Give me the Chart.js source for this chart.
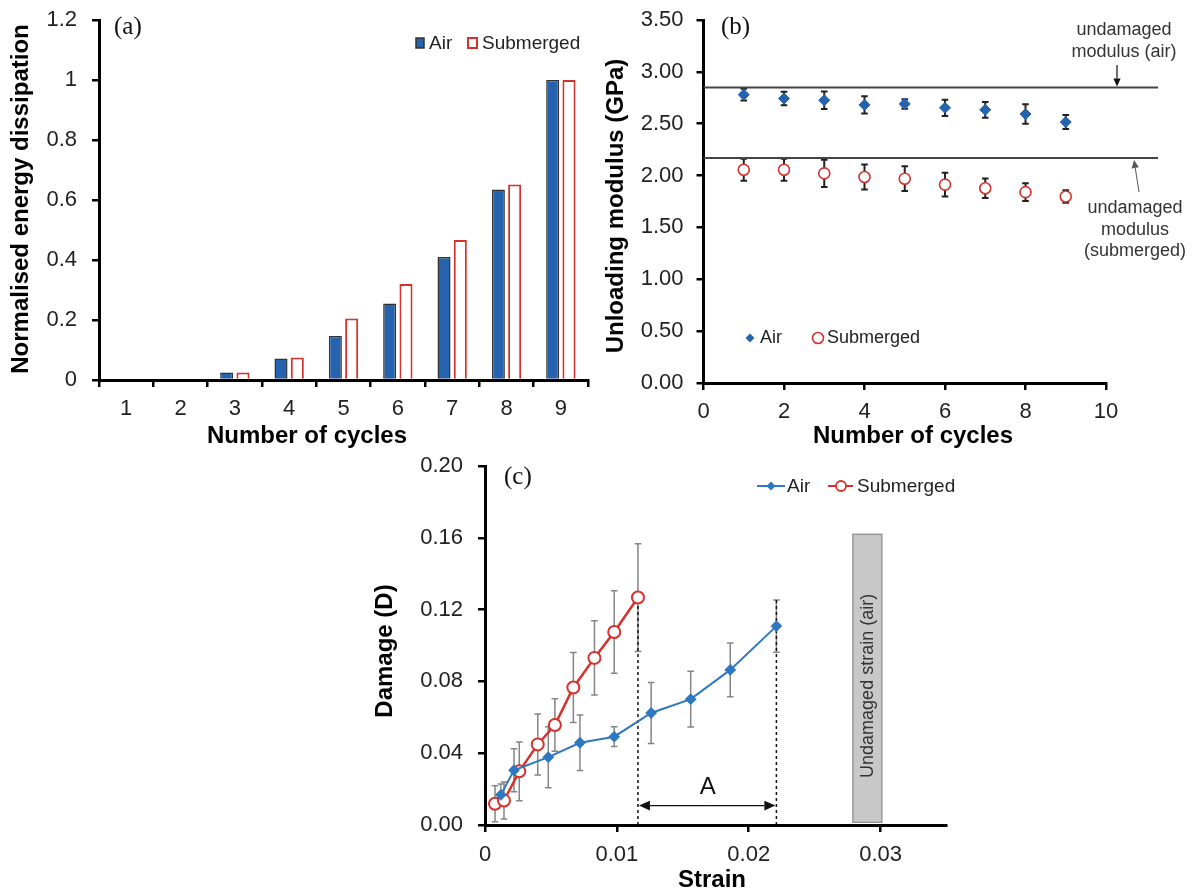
<!DOCTYPE html>
<html><head><meta charset="utf-8">
<script src="https://cdn.jsdelivr.net/npm/chart.js@4.4.1/dist/chart.umd.min.js"></script>
<style>
body{margin:0;background:#fff;width:1200px;height:895px;overflow:hidden;position:relative}
.p{position:absolute}
</style></head><body>
<div class="p" style="left:0;top:0;width:600px;height:450px"><canvas id="ca" width="600" height="450"></canvas></div>
<div class="p" style="left:600px;top:0;width:600px;height:450px"><canvas id="cb" width="600" height="450"></canvas></div>
<div class="p" style="left:360px;top:450px;width:600px;height:445px"><canvas id="cc" width="600" height="445"></canvas></div>
<script>
// ---------- data ----------
const cycles = ['1','2','3','4','5','6','7','8','9'];
const energyAir = [0,0,0.025,0.072,0.147,0.255,0.41,0.635,1.0];
const energySub = [0,0,0.025,0.075,0.205,0.32,0.467,0.652,1.0];

const cycleNums = [1,2,3,4,5,6,7,8,9];
const modulusAir = [2.78,2.742,2.726,2.682,2.691,2.653,2.634,2.593,2.516];
const modulusAirErr = [0.056,0.065,0.084,0.083,0.046,0.079,0.076,0.094,0.068];
const modulusSub = [2.056,2.056,2.021,1.986,1.970,1.913,1.878,1.840,1.798];
const modulusSubErr = [0.105,0.105,0.132,0.121,0.119,0.114,0.094,0.086,0.06];
const undamagedModulus = [2.85, 2.17]; // air, submerged

const strainAir = [0.0012,0.0022,0.0048,0.0072,0.0098,0.0126,0.0156,0.0186,0.0221];
const damageAir = [0.0168,0.0305,0.0378,0.0458,0.0492,0.0624,0.0701,0.0864,0.1108];
const damageAirErr = [0.006,0.012,0.017,0.0155,0.0055,0.017,0.0155,0.015,0.0145];
const strainSub = [0.00076,0.00144,0.0026,0.0040,0.0053,0.0067,0.0083,0.0098,0.0116];
const damageSub = [0.0118,0.0136,0.0299,0.0449,0.0557,0.0766,0.0931,0.1075,0.1267];
const damageSubErr = [0.010,0.0103,0.0164,0.017,0.0146,0.0195,0.0207,0.023,0.030];
const undamagedStrainBand = [0.0279, 0.0301];
const undamagedStrainBandY = [0.0015, 0.162];
const arrowADamage = 0.0108;

const ticksA = [0,0.2,0.4,0.6,0.8,1,1.2];
const ticksCx = [0,0.01,0.02,0.03];

// ---------- style ----------
const SANS = "'Liberation Sans', Arial, sans-serif";
const SERIF = "'Liberation Serif', 'Times New Roman', serif";
const BLUE = '#2563ae', BLUE2 = '#2f78c2', RED = '#d8302c';
Chart.defaults.font.family = SANS;
Chart.defaults.color = '#222';
const TICKFONT = {size: 22, family: SANS};
const TITLEFONT = 'bold 24px ' + SANS;

function grid() {
  return {display: true, drawOnChartArea: false, drawTicks: true, tickLength: 7, color: '#000', lineWidth: 2.5};
}
const border = {display: true, color: '#000', width: 3};
function fixSize(prop, val) {
  return function (s) {
    s[prop] = val;
    s.paddingTop = 0; s.paddingBottom = 0; s.paddingLeft = 0; s.paddingRight = 0;
  };
}

const errorBarPlugin = {
  id: 'errbars',
  beforeDatasetsDraw(chart) {
    const ctx = chart.ctx, ys = chart.scales.y;
    chart.data.datasets.forEach((ds, i) => {
      if (!ds.errors) return;
      const meta = chart.getDatasetMeta(i);
      ctx.save();
      ctx.strokeStyle = ds.errorColor; ctx.lineWidth = ds.errorWidth;
      meta.data.forEach((pt, j) => {
        const v = ds.data[j].y, e = ds.errors[j];
        const yt = ys.getPixelForValue(v + e), yb = ys.getPixelForValue(v - e);
        const x = pt.x, c = ds.errorCap;
        ctx.beginPath();
        ctx.moveTo(x, yt); ctx.lineTo(x, yb);
        ctx.moveTo(x - c, yt); ctx.lineTo(x + c, yt);
        ctx.moveTo(x - c, yb); ctx.lineTo(x + c, yb);
        ctx.stroke();
      });
      ctx.restore();
    });
  }
};

function text(ctx, s, x, y, font, color, align, rot) {
  ctx.save(); ctx.font = font; ctx.fillStyle = color || '#222';
  ctx.textAlign = align || 'left'; ctx.textBaseline = 'middle';
  ctx.translate(x, y); if (rot) ctx.rotate(rot);
  ctx.fillText(s, 0, 0); ctx.restore();
}
function arrow(ctx, x1, y1, x2, y2, color, lw, head) {
  ctx.save(); ctx.strokeStyle = color; ctx.fillStyle = color; ctx.lineWidth = lw;
  const a = Math.atan2(y2 - y1, x2 - x1);
  ctx.beginPath(); ctx.moveTo(x1, y1); ctx.lineTo(x2 - Math.cos(a) * head, y2 - Math.sin(a) * head); ctx.stroke();
  ctx.beginPath(); ctx.moveTo(x2, y2);
  ctx.lineTo(x2 - head * Math.cos(a) + head * 0.45 * Math.sin(a), y2 - head * Math.sin(a) - head * 0.45 * Math.cos(a));
  ctx.lineTo(x2 - head * Math.cos(a) - head * 0.45 * Math.sin(a), y2 - head * Math.sin(a) + head * 0.45 * Math.cos(a));
  ctx.closePath(); ctx.fill();
  ctx.restore();
}
function diamond(ctx, x, y, r, color) {
  ctx.save(); ctx.fillStyle = color; ctx.beginPath();
  ctx.moveTo(x, y - r); ctx.lineTo(x + r, y); ctx.lineTo(x, y + r); ctx.lineTo(x - r, y); ctx.closePath(); ctx.fill(); ctx.restore();
}
function circle(ctx, x, y, r, color, lw) {
  ctx.save(); ctx.strokeStyle = color; ctx.fillStyle = '#fff'; ctx.lineWidth = lw;
  ctx.beginPath(); ctx.arc(x, y, r, 0, Math.PI * 2); ctx.fill(); ctx.stroke(); ctx.restore();
}

// ---------- (a) ----------
new Chart(document.getElementById('ca'), {
  type: 'bar',
  data: {labels: cycles, datasets: [
    {label: 'Air', data: energyAir, backgroundColor: BLUE, borderColor: '#333', borderWidth: 1.5, categoryPercentage: 0.6, barPercentage: 0.8},
    {label: 'Submerged', data: energySub, backgroundColor: '#fff', borderColor: RED, borderWidth: 2, categoryPercentage: 0.6, barPercentage: 0.8}
  ]},
  options: {
    responsive: false, animation: false,
    layout: {padding: {left: 0, right: 12, top: 20, bottom: 0}},
    plugins: {legend: {display: false}, tooltip: {enabled: false}},
    scales: {
      x: {
        border, grid: Object.assign(grid(), {offset: true}),
        ticks: {font: TICKFONT, padding: 9, color: '#222'},
        afterFit: fixSize('height', 70)
      },
      y: {
        border, grid: grid(),
        min: 0, max: 1.2,
        afterBuildTicks(s) { s.ticks = ticksA.map(v => ({value: v})); },
        ticks: {font: TICKFONT, padding: 15, color: '#222', callback: v => String(+v.toFixed(1))},
        afterFit: fixSize('width', 99)
      }
    }
  },
  plugins: [{
    id: 'decorA',
    afterDraw(chart) {
      const ctx = chart.ctx;
      text(ctx, 'Number of cycles', 307, 436, TITLEFONT, '#000', 'center');
      text(ctx, 'Normalised energy dissipation', 21, 199, TITLEFONT, '#000', 'center', -Math.PI / 2);
      text(ctx, '(a)', 114, 27, '25px ' + SERIF, '#111');
      ctx.save();
      ctx.fillStyle = BLUE; ctx.strokeStyle = '#333'; ctx.lineWidth = 1.5;
      ctx.fillRect(416, 38, 8, 10); ctx.strokeRect(416, 38, 8, 10);
      ctx.fillStyle = '#fff'; ctx.strokeStyle = RED; ctx.lineWidth = 2;
      ctx.fillRect(468, 38, 9, 10); ctx.strokeRect(468, 38, 9, 10);
      ctx.restore();
      text(ctx, 'Air', 429, 44, '19px ' + SANS, '#222');
      text(ctx, 'Submerged', 482, 44, '19px ' + SANS, '#222');
    }
  }]
});

// ---------- (b) ----------
new Chart(document.getElementById('cb'), {
  type: 'scatter',
  data: {datasets: [
    {label: 'Air', data: cycleNums.map((c, i) => ({x: c, y: modulusAir[i]})), errors: modulusAirErr,
     errorColor: '#222', errorWidth: 2, errorCap: 3.3,
     pointStyle: 'rectRot', pointRadius: 5.5, backgroundColor: BLUE, borderColor: BLUE, borderWidth: 1},
    {label: 'Submerged', data: cycleNums.map((c, i) => ({x: c, y: modulusSub[i]})), errors: modulusSubErr,
     errorColor: '#222', errorWidth: 2, errorCap: 3.3,
     pointStyle: 'circle', pointRadius: 5.5, backgroundColor: '#fff', borderColor: RED, borderWidth: 1.6}
  ]},
  options: {
    responsive: false, animation: false,
    layout: {padding: {left: 0, right: 94, top: 20, bottom: 0}},
    plugins: {legend: {display: false}, tooltip: {enabled: false}},
    scales: {
      x: {
        border, grid: grid(),
        type: 'linear', min: 0, max: 10,
        ticks: {stepSize: 2, font: TICKFONT, padding: 9, color: '#222'},
        afterFit: fixSize('height', 67)
      },
      y: {
        border, grid: grid(),
        min: 0, max: 3.5,
        ticks: {stepSize: 0.5, font: TICKFONT, padding: 13, color: '#222', callback: v => v.toFixed(2)},
        afterFit: fixSize('width', 103.5)
      }
    }
  },
  plugins: [errorBarPlugin, {
    id: 'decorB',
    beforeDatasetsDraw(chart) {
      const ctx = chart.ctx, ys = chart.scales.y, L = chart.chartArea.left;
      ctx.save(); ctx.strokeStyle = '#444'; ctx.lineWidth = 2;
      undamagedModulus.forEach(v => {
        const y = ys.getPixelForValue(v);
        ctx.beginPath(); ctx.moveTo(L, y); ctx.lineTo(558, y); ctx.stroke();
      });
      ctx.restore();
    },
    afterDraw(chart) {
      const ctx = chart.ctx, ys = chart.scales.y;
      text(ctx, 'Number of cycles', 313, 436, TITLEFONT, '#000', 'center');
      text(ctx, 'Unloading modulus (GPa)', 16, 206, TITLEFONT, '#000', 'center', -Math.PI / 2);
      text(ctx, '(b)', 121, 27, '25px ' + SERIF, '#111');
      const f = '18px ' + SANS;
      text(ctx, 'undamaged', 524, 30, f, '#333', 'center');
      text(ctx, 'modulus (air)', 524, 52, f, '#333', 'center');
      const yA = ys.getPixelForValue(undamagedModulus[0]);
      arrow(ctx, 517, 65, 517, yA - 1, '#111', 1.2, 8);
      text(ctx, 'undamaged', 535, 208, f, '#333', 'center');
      text(ctx, 'modulus', 535, 230, f, '#333', 'center');
      text(ctx, '(submerged)', 535, 251, f, '#333', 'center');
      const yS = ys.getPixelForValue(undamagedModulus[1]);
      arrow(ctx, 539, 192, 534, yS + 2, '#555', 1, 8);
      // legend
      diamond(ctx, 150, 338, 4.5, BLUE);
      text(ctx, 'Air', 160, 338, '18px ' + SANS, '#222');
      circle(ctx, 218, 338, 5.5, RED, 1.6);
      text(ctx, 'Submerged', 227, 338, '18px ' + SANS, '#222');
    }
  }]
});

// ---------- (c) ----------
new Chart(document.getElementById('cc'), {
  type: 'scatter',
  data: {datasets: [
    {label: 'Air', data: strainAir.map((s, i) => ({x: s, y: damageAir[i]})), errors: damageAirErr,
     errorColor: '#858585', errorWidth: 1.5, errorCap: 3.3,
     showLine: true, borderColor: BLUE2, borderWidth: 2, pointStyle: 'rectRot', pointRadius: 4.5,
     backgroundColor: BLUE2, pointBorderColor: BLUE2},
    {label: 'Submerged', data: strainSub.map((s, i) => ({x: s, y: damageSub[i]})), errors: damageSubErr,
     errorColor: '#858585', errorWidth: 1.5, errorCap: 3.3,
     showLine: true, borderColor: RED, borderWidth: 2.5, pointStyle: 'circle', pointRadius: 6,
     backgroundColor: '#fff', pointBorderColor: RED, pointBorderWidth: 2}
  ]},
  options: {
    responsive: false, animation: false,
    layout: {padding: {left: 0, right: 13.5, top: 16, bottom: 0}},
    plugins: {legend: {display: false}, tooltip: {enabled: false}},
    scales: {
      x: {
        border, grid: grid(),
        type: 'linear', min: 0, max: 0.035,
        afterBuildTicks(s) { s.ticks = ticksCx.map(v => ({value: v})); },
        ticks: {font: TICKFONT, padding: 10, color: '#222', callback: v => v === 0 ? '0' : v.toFixed(2)},
        afterFit: fixSize('height', 70)
      },
      y: {
        border, grid: grid(),
        min: 0, max: 0.2,
        ticks: {stepSize: 0.04, font: TICKFONT, padding: 15, color: '#222', callback: v => v.toFixed(2)},
        afterFit: fixSize('width', 125)
      }
    }
  },
  plugins: [errorBarPlugin, {
    id: 'decorC',
    beforeDatasetsDraw(chart) {
      const ctx = chart.ctx, xs = chart.scales.x, ys = chart.scales.y;
      // grey band
      const x1 = xs.getPixelForValue(undamagedStrainBand[0]), x2 = xs.getPixelForValue(undamagedStrainBand[1]);
      const y1 = ys.getPixelForValue(undamagedStrainBandY[1]), y2 = ys.getPixelForValue(undamagedStrainBandY[0]);
      ctx.save();
      ctx.fillStyle = '#c8c8c8'; ctx.strokeStyle = '#8a8a8a'; ctx.lineWidth = 1.2;
      ctx.fillRect(x1, y1, x2 - x1, y2 - y1); ctx.strokeRect(x1, y1, x2 - x1, y2 - y1);
      ctx.restore();
      text(ctx, 'Undamaged strain (air)', (x1 + x2) / 2 + 1, ys.getPixelForValue(0.0775), '18px ' + SANS, '#333', 'center', -Math.PI / 2);
      // dashed verticals
      const n = strainSub.length - 1, m = strainAir.length - 1;
      const xa = xs.getPixelForValue(strainSub[n]), xb = xs.getPixelForValue(strainAir[m]);
      const y0 = ys.getPixelForValue(0);
      ctx.save(); ctx.strokeStyle = '#111'; ctx.lineWidth = 1.5; ctx.setLineDash([3, 3]);
      ctx.beginPath();
      ctx.moveTo(xa, y0); ctx.lineTo(xa, ys.getPixelForValue(damageSub[n]));
      ctx.moveTo(xb, y0); ctx.lineTo(xb, ys.getPixelForValue(damageAir[m] + damageAirErr[m]));
      ctx.stroke(); ctx.restore();
      // arrow A
      const ya = ys.getPixelForValue(arrowADamage);
      arrow(ctx, (xa + xb) / 2, ya, xa + 1, ya, '#111', 1.2, 11);
      arrow(ctx, (xa + xb) / 2, ya, xb - 1, ya, '#111', 1.2, 11);
      text(ctx, 'A', xs.getPixelForValue(0.0169), ys.getPixelForValue(0.0212), '24px ' + SANS, '#111', 'center');
    },
    afterDraw(chart) {
      const ctx = chart.ctx;
      text(ctx, 'Strain', 352, 430, TITLEFONT, '#000', 'center');
      text(ctx, 'Damage (D)', 25, 201, TITLEFONT, '#000', 'center', -Math.PI / 2);
      text(ctx, '(c)', 144, 27, '25px ' + SERIF, '#111');
      ctx.save(); ctx.lineWidth = 2;
      ctx.strokeStyle = BLUE2; ctx.beginPath(); ctx.moveTo(397, 36); ctx.lineTo(425, 36); ctx.stroke();
      ctx.strokeStyle = RED; ctx.beginPath(); ctx.moveTo(468, 36); ctx.lineTo(493, 36); ctx.stroke();
      ctx.restore();
      diamond(ctx, 411, 36, 4.5, BLUE2);
      circle(ctx, 481, 36, 5, RED, 1.8);
      text(ctx, 'Air', 427, 37, '19px ' + SANS, '#222');
      text(ctx, 'Submerged', 497, 37, '19px ' + SANS, '#222');
    }
  }]
});
</script>
</body></html>
